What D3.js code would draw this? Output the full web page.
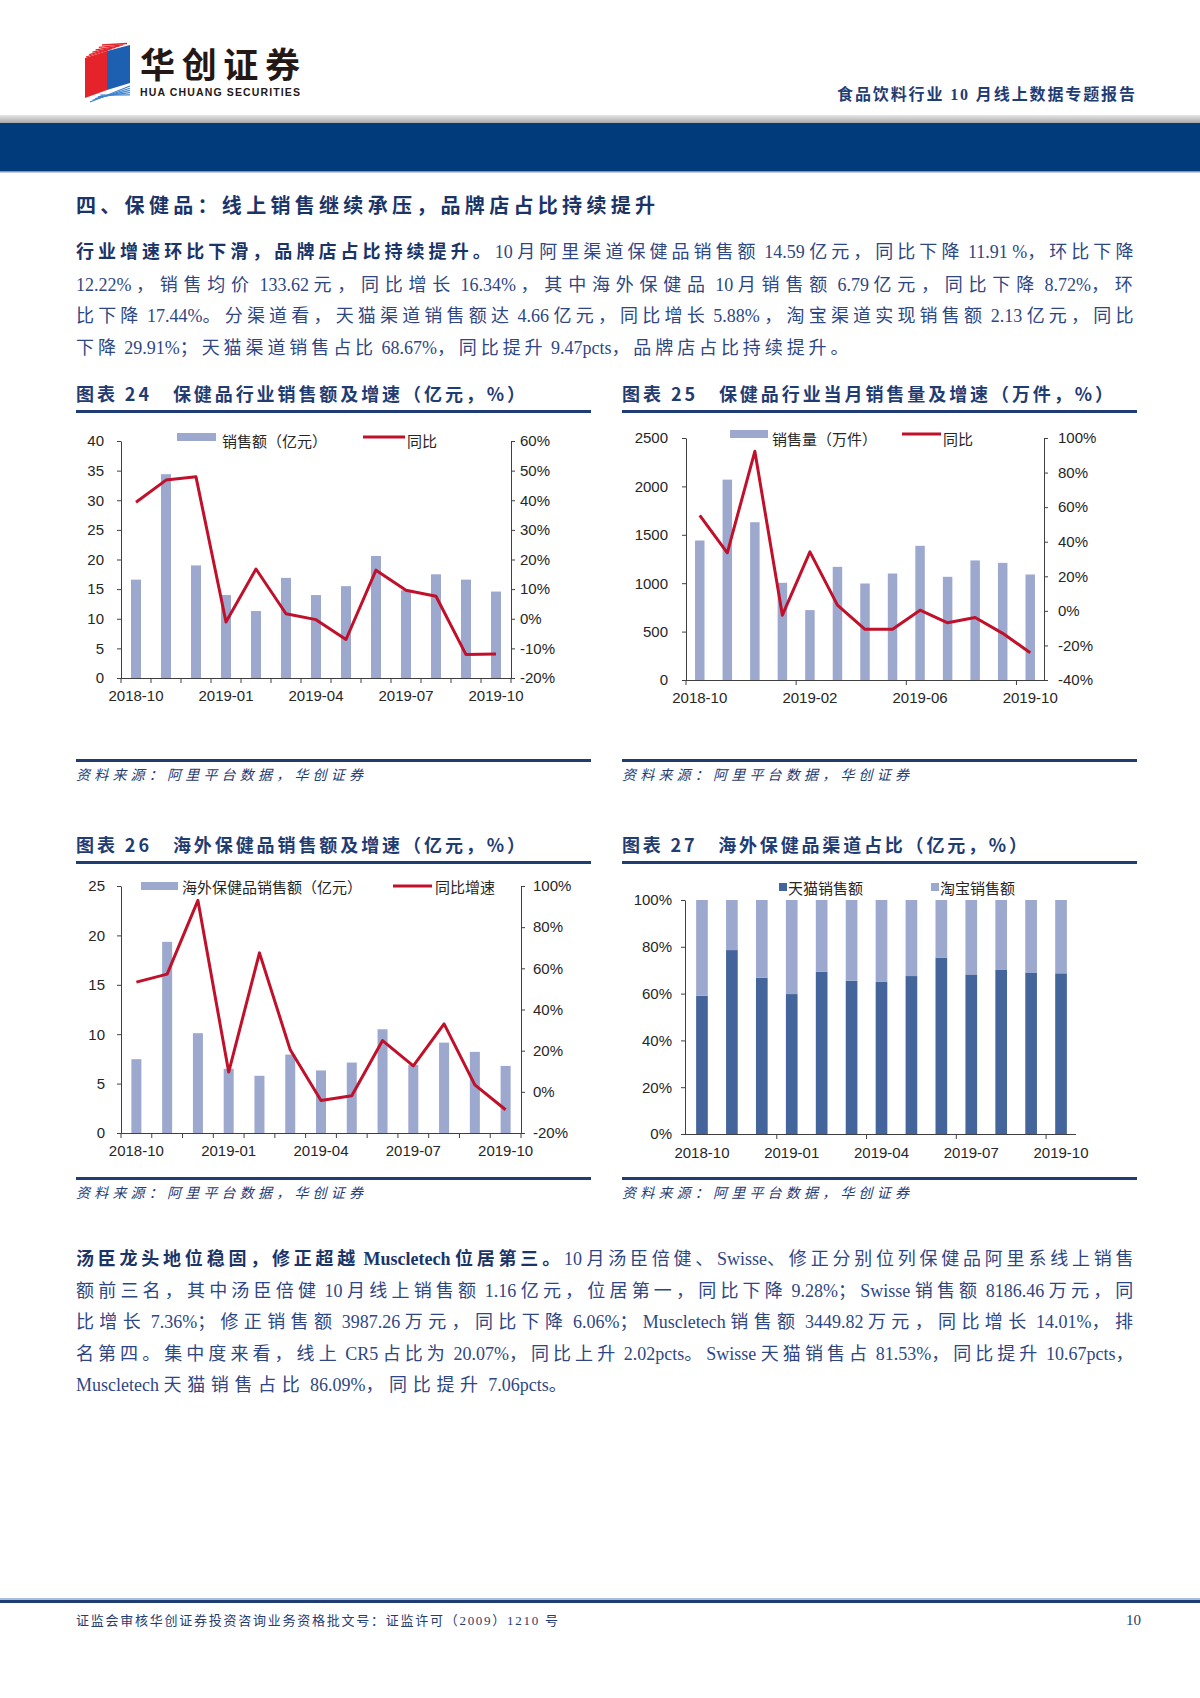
<!DOCTYPE html>
<html><head><meta charset="utf-8">
<script src="https://cdn.jsdelivr.net/npm/d3@7"></script>
<style>body{margin:0;background:#fff}svg{display:block}</style>
</head><body>
<script>
// ---------------- DATA ----------------
const months = ["2018-10","2018-11","2018-12","2019-01","2019-02","2019-03","2019-04","2019-05","2019-06","2019-07","2019-08","2019-09","2019-10"];
// 图表24
const salesAmt = [16.6,34.4,19.0,14.0,11.3,16.9,14.0,15.5,20.6,14.8,17.5,16.6,14.59];
const salesAmtYoY = [39.3,46.8,47.9,-1.1,16.8,1.7,-0.3,-7.0,16.4,9.6,7.6,-12.1,-11.91];
const amtTicks = [0,5,10,15,20,25,30,35,40];
const amtYoYTicks = [-20,-10,0,10,20,30,40,50,60];
// 图表25
const salesVol = [1441,2070,1630,1004,722,1169,997,1100,1386,1066,1235,1210,1090];
const salesVolYoY = [55.3,33.6,92.3,-2.5,34.1,3.3,-10.7,-10.7,0.4,-6.9,-3.8,-13.0,-24.2];
const volTicks = [0,500,1000,1500,2000,2500];
const volYoYTicks = [-40,-20,0,20,40,60,80,100];
// 图表26
const overseasAmt = [7.47,19.35,10.1,6.5,5.79,7.94,6.33,7.13,10.5,6.9,9.15,8.21,6.79];
const overseasYoY = [53.3,57.2,93.0,9.6,67.5,20.4,-4.2,-1.9,24.9,12.6,33.0,3.4,-8.72];
const osTicks = [0,5,10,15,20,25];
const osYoYTicks = [-20,0,20,40,60,80,100];
// 图表27
const tmallShare = [59.1,78.6,66.8,59.8,69.4,65.5,65.0,67.5,75.4,68.2,70.1,68.8,68.67];
const taobaoShare = [40.9,21.4,33.2,40.2,30.6,34.5,35.0,32.5,24.6,31.8,29.9,31.2,31.33];
const shareTicks = [0,20,40,60,80,100];

// ---------------- STYLE ----------------
const NAVY = "#1F3C73", BODY = "#2E4784", BOLD = "#1B3468";
const BAR = "#9CA8CE", LINE = "#C0102A", TMALL = "#44659B";
const AX = "#404040", TXT = "#262626";
const SANS = "'Liberation Sans', Arial, 'Noto Sans CJK SC', sans-serif";
const SERIF = "'Liberation Serif', 'Noto Sans CJK SC', serif";
const CJK = "'Noto Sans CJK SC', sans-serif";
const isCJK = ch => /[\u3000-\u9fff\uff00-\uffef]/.test(ch);

const svg = d3.select("body").append("svg").attr("width",1200).attr("height",1698);
svg.append("rect").attr("width",1200).attr("height",1698).attr("fill","#fff");
const defs = svg.append("defs");
const gr = defs.append("linearGradient").attr("id","gray").attr("x1",0).attr("y1",0).attr("x2",0).attr("y2",1);
gr.append("stop").attr("offset","0").attr("stop-color","#e6e6e6");
gr.append("stop").attr("offset","1").attr("stop-color","#a9a9a9");

function txt(g, x, y, segs, o={}) {
  const t = g.append("text").attr("x",x).attr("y",y)
    .attr("font-family",o.ff||SERIF).attr("font-size",o.fs||17).attr("fill",o.fill||BODY);
  if (o.anchor) t.attr("text-anchor",o.anchor);
  if (o.italic) t.attr("font-style","italic");
  if (o.w) t.attr("textLength",o.w).attr("lengthAdjust","spacing");
  (typeof segs==="string"?[[segs,0]]:segs).forEach(([s,b])=>{
    const sp = t.append("tspan").text(s);
    if (b) sp.attr("font-weight",700).attr("fill",o.boldFill||BOLD).attr("font-family",CJK);
    else if (o.bold) sp.attr("font-weight",700);
  });
  return t;
}
// justified paragraph line: extra space goes only to CJK characters
function pline(g, x, y, segs, target, fs){
  const t = g.append("text").attr("x",x).attr("y",y).attr("font-family",SERIF).attr("font-size",fs).attr("fill",BODY);
  const cj = [];
  segs.forEach(([s,b])=>{
    // split into CJK / non-CJK runs
    const runs = s.match(/[\u3000-\u9fff\uff00-\uffef]+|[^\u3000-\u9fff\uff00-\uffef]+/g);
    runs.forEach(r=>{
      const sp = t.append("tspan").text(r);
      if (b) sp.attr("font-weight",700).attr("fill",BOLD).attr("font-family", isCJK(r[0])?CJK:SERIF);
      if (isCJK(r[0])) cj.push([sp,r.length]);
    });
  });
  const nat = t.node().getComputedTextLength();
  const n = cj.reduce((a,c)=>a+c[1],0);
  const ls = (target - nat)/Math.max(1,n-0.6);
  cj.forEach(([sp])=>sp.attr("letter-spacing",ls.toFixed(3)));
  return t;
}

// ---------------- HEADER ----------------
const hd = svg.append("g");
for (let k=0;k<6;k++){
  hd.append("line").attr("x1",86+k*3.2).attr("y1",57-k*2.4).attr("x2",108+k*3.8).attr("y2",50-k*1.3)
    .attr("stroke","#E5232B").attr("stroke-width",1.3);
}
hd.append("polygon").attr("points","85,58 107,51 107,90 85,98").attr("fill","#E5232B");
hd.append("polygon").attr("points","107,51 130,45 130,83 107,90").attr("fill","#1D5FB0");
for (let k=0;k<5;k++){
  hd.append("line").attr("x1",90+k*2.6).attr("y1",102-k*1.7).attr("x2",130).attr("y2",86+k*2.2)
    .attr("stroke","#3F83D0").attr("stroke-width",1.2);
}
txt(hd,140,78,"华创证券",{ff:CJK,fs:35,fill:"#231815",bold:true,w:160});
txt(hd,140,96,"HUA CHUANG SECURITIES",{ff:SANS,fs:10.5,fill:"#231815",bold:true,w:160});
txt(hd,837,100,"食品饮料行业 10 月线上数据专题报告",{fs:16,fill:NAVY,bold:true,w:298});
hd.append("rect").attr("x",0).attr("y",115).attr("width",1200).attr("height",8).attr("fill","url(#gray)");
hd.append("rect").attr("x",0).attr("y",123).attr("width",1200).attr("height",48).attr("fill","#023B7B");
hd.append("rect").attr("x",0).attr("y",171).attr("width",1200).attr("height",1.5).attr("fill","#7C96C0");

// ---------------- TEXT BLOCKS ----------------
txt(svg,76,213,"四、保健品：线上销售继续承压，品牌店占比持续提升",{ff:CJK,fs:20,fill:BOLD,bold:true,w:579});

const para1 = [
  [[["行业增速环比下滑，品牌店占比持续提升。",1],["10 月阿里渠道保健品销售额 14.59 亿元，同比下降 11.91 %，环比下降",0]],1059],
  [[["12.22% ，销售均价 133.62 元，同比增长 16.34% ，其中海外保健品 10 月销售额 6.79 亿元，同比下降 8.72%，环",0]],1059],
  [[["比下降 17.44%。分渠道看，天猫渠道销售额达 4.66 亿元，同比增长 5.88% ，淘宝渠道实现销售额 2.13 亿元，同比",0]],1059],
  [[["下降 29.91%；天猫渠道销售占比 68.67%，同比提升 9.47pcts，品牌店占比持续提升。",0]],774]
];
const p1y = [258,291,322,354];
para1.forEach((l,i)=>pline(svg,76,p1y[i],l[0],l[1],18));

const para2 = [
  [[["汤臣龙头地位稳固，修正超越 ",1],["Muscletech",1],[" 位居第三。",1],["10 月汤臣倍健、Swisse、修正分别位列保健品阿里系线上销售",0]],1059],
  [[["额前三名，其中汤臣倍健 10 月线上销售额 1.16 亿元，位居第一，同比下降 9.28%；Swisse 销售额 8186.46 万元，同",0]],1059],
  [[["比增长 7.36%；修正销售额 3987.26 万元，同比下降 6.06%；Muscletech 销售额 3449.82 万元，同比增长 14.01%，排",0]],1059],
  [[["名第四。集中度来看，线上 CR5 占比为 20.07%，同比上升 2.02pcts。Swisse 天猫销售占 81.53%，同比提升 10.67pcts，",0]],1059],
  [[["Muscletech 天猫销售占比 86.09%，同比提升 7.06pcts。",0]],493]
];
const p2y = [1265,1297,1328,1360,1391];
para2.forEach((l,i)=>pline(svg,76,p2y[i],l[0],l[1],18));

// chart frames: titles, underlines, sources
function frame(x0,x1,ty,title,tw,uy,sy){
  txt(svg,x0,ty,title,{ff:CJK,fs:18,fill:NAVY,bold:true,w:tw});
  svg.append("rect").attr("x",x0).attr("y",uy).attr("width",x1-x0).attr("height",3).attr("fill",NAVY);
  svg.append("rect").attr("x",x0).attr("y",sy).attr("width",x1-x0).attr("height",3).attr("fill",NAVY);
  txt(svg,x0,sy+21,"资料来源：阿里平台数据，华创证券",{ff:CJK,fs:14,fill:NAVY,italic:true,w:287});
}
frame(76,591,401,"图表 24　保健品行业销售额及增速（亿元，%）",449,410,759);
frame(622,1137,401,"图表 25　保健品行业当月销售量及增速（万件，%）",491,410,759);
frame(76,591,852,"图表 26　海外保健品销售额及增速（亿元，%）",449,861,1177);
frame(622,1137,852,"图表 27　海外保健品渠道占比（亿元，%）",405,861,1177);

// ---------------- CHART HELPERS ----------------
function styleAxis(sel){
  sel.attr("font-family",SANS).attr("font-size",15);
  sel.selectAll("path,line").attr("stroke",AX);
  sel.selectAll("text").attr("fill",TXT);
}
function xAxis(g,x,x0,x1,yB,tickB,labs){
  const step = x.step();
  g.append("line").attr("x1",x0).attr("x2",x1).attr("y1",yB+0.5).attr("y2",yB+0.5).attr("stroke",AX);
  tickB.forEach(i=>g.append("line").attr("x1",x0+i*step).attr("x2",x0+i*step).attr("y1",yB).attr("y2",yB+5).attr("stroke",AX));
  labs.forEach(i=>g.append("text").attr("x",x(months[i])+x.bandwidth()/2).attr("y",yB+23)
    .attr("text-anchor","middle").attr("font-family",SANS).attr("font-size",15).attr("fill",TXT).text(months[i]));
}
function combo(c){
  const g = svg.append("g");
  const x = d3.scaleBand().domain(months).range([c.x0,c.x1]).paddingInner(c.pad).paddingOuter(c.pad/2);
  const yL = d3.scaleLinear().domain(c.lDom).range([c.yB,c.yT]);
  const yR = d3.scaleLinear().domain(c.rDom).range([c.yB,c.yT]);
  g.selectAll("rect.bar").data(c.bars).join("rect").attr("class","bar")
    .attr("x",(d,i)=>x(months[i])).attr("y",d=>yL(d)).attr("width",x.bandwidth())
    .attr("height",d=>yL(0)-yL(d)).attr("fill",BAR);
  g.append("g").attr("transform",`translate(${c.x0},0)`)
    .call(d3.axisLeft(yL).tickValues(c.lTicks).tickFormat(d3.format("d")).tickSize(4).tickSizeOuter(0).tickPadding(c.lPad)).call(styleAxis);
  g.append("g").attr("transform",`translate(${c.x1},0)`)
    .call(d3.axisRight(yR).tickValues(c.rTicks).tickFormat(d=>d+"%").tickSize(4).tickSizeOuter(0).tickPadding(c.rPad)).call(styleAxis);
  xAxis(g,x,c.x0,c.x1,c.yB,c.xTickB,[0,c.lab,2*c.lab,3*c.lab].concat(c.lab===3?[12]:[]));
  g.append("path").datum(c.line).attr("fill","none").attr("stroke",LINE).attr("stroke-width",3)
    .attr("stroke-linejoin","round")
    .attr("d",d3.line().x((d,i)=>x(months[i])+x.bandwidth()/2).y(d=>yR(d)));
  const L = c.leg;
  g.append("rect").attr("x",L.bx).attr("y",L.by).attr("width",L.bw).attr("height",8).attr("fill",BAR);
  g.append("text").attr("x",L.btx).attr("y",L.ty).attr("font-family",CJK).attr("font-size",15).attr("fill",TXT).text(L.bt);
  g.append("line").attr("x1",L.lx).attr("x2",L.lx+L.lw).attr("y1",L.by+4).attr("y2",L.by+4).attr("stroke",LINE).attr("stroke-width",3);
  g.append("text").attr("x",L.ltx).attr("y",L.ty).attr("font-family",CJK).attr("font-size",15).attr("fill",TXT).text(L.lt);
}

// 图表24
combo({x0:121,x1:511,yT:441,yB:678,pad:0.667,bars:salesAmt,line:salesAmtYoY,
  lDom:[0,40],rDom:[-20,60],lTicks:amtTicks,rTicks:amtYoYTicks,lPad:13,rPad:5,
  xTickB:d3.range(0,14),lab:3,
  leg:{bx:177,by:433,bw:39,btx:222,bt:"销售额（亿元）",lx:363,lw:42,ltx:407,lt:"同比",ty:447}});
// 图表25
combo({x0:686,x1:1044,yT:438,yB:680,pad:0.656,bars:salesVol,line:salesVolYoY,
  lDom:[0,2500],rDom:[-40,100],lTicks:volTicks,rTicks:volYoYTicks,lPad:14,rPad:10,
  xTickB:[0,4,8,12],lab:4,
  leg:{bx:730,by:430,bw:38,btx:772,bt:"销售量（万件）",lx:902,lw:39,ltx:943,lt:"同比",ty:445}});
// 图表26
combo({x0:121,x1:521,yT:886,yB:1133,pad:0.675,bars:overseasAmt,line:overseasYoY,
  lDom:[0,25],rDom:[-20,100],lTicks:osTicks,rTicks:osYoYTicks,lPad:12,rPad:8,
  xTickB:d3.range(0,14),lab:3,
  leg:{bx:141,by:882,bw:37,btx:182,bt:"海外保健品销售额（亿元）",lx:393,lw:39,ltx:435,lt:"同比增速",ty:893}});

// 图表27 stacked share
(function(){
  const g = svg.append("g");
  const x0=687,x1=1076,ax=685,yT=900,yB=1134;
  const x = d3.scaleBand().domain(months).range([x0,x1]).paddingInner(0.61).paddingOuter(0.305);
  const y = d3.scaleLinear().domain([0,100]).range([yB,yT]);
  const rows = months.map((m,i)=>({m,tmall:tmallShare[i],taobao:taobaoShare[i]}));
  const series = d3.stack().keys(["tmall","taobao"])(rows);
  const col = {tmall:TMALL,taobao:BAR};
  g.selectAll("g.s").data(series).join("g").attr("fill",s=>col[s.key])
    .selectAll("rect").data(s=>s).join("rect")
    .attr("x",d=>x(d.data.m)).attr("width",x.bandwidth())
    .attr("y",d=>y(d[1])).attr("height",d=>y(d[0])-y(d[1]));
  g.append("g").attr("transform",`translate(${ax},0)`)
    .call(d3.axisLeft(y).tickValues(shareTicks).tickFormat(d=>d+"%").tickSize(4).tickSizeOuter(0).tickPadding(9)).call(styleAxis);
  const step = x.step();
  g.append("line").attr("x1",ax).attr("x2",x1).attr("y1",yB+0.5).attr("y2",yB+0.5).attr("stroke",AX);
  [3,6,9,12].forEach(i=>g.append("line").attr("x1",x0+i*step).attr("x2",x0+i*step).attr("y1",yB).attr("y2",yB+5).attr("stroke",AX));
  [0,3,6,9,12].forEach(i=>g.append("text").attr("x",x(months[i])+x.bandwidth()/2).attr("y",yB+24)
    .attr("text-anchor","middle").attr("font-family",SANS).attr("font-size",15).attr("fill",TXT).text(months[i]));
  const leg=[["天猫销售额",TMALL,779],["淘宝销售额",BAR,931]];
  leg.forEach(([t,c,lx])=>{
    g.append("rect").attr("x",lx).attr("y",883).attr("width",8).attr("height",8).attr("fill",c);
    g.append("text").attr("x",lx+9).attr("y",894).attr("font-family",CJK).attr("font-size",15).attr("fill",TXT).text(t);
  });
})();

// ---------------- FOOTER ----------------
svg.append("rect").attr("x",0).attr("y",1598).attr("width",1200).attr("height",2).attr("fill","#A9BEDD");
svg.append("rect").attr("x",0).attr("y",1600).attr("width",1200).attr("height",3).attr("fill",NAVY);
txt(svg,76,1625,"证监会审核华创证券投资咨询业务资格批文号：证监许可（2009）1210 号",{fs:13,fill:NAVY,w:482});
txt(svg,1126,1625,"10",{fs:15,fill:NAVY});
</script>
</body></html>
